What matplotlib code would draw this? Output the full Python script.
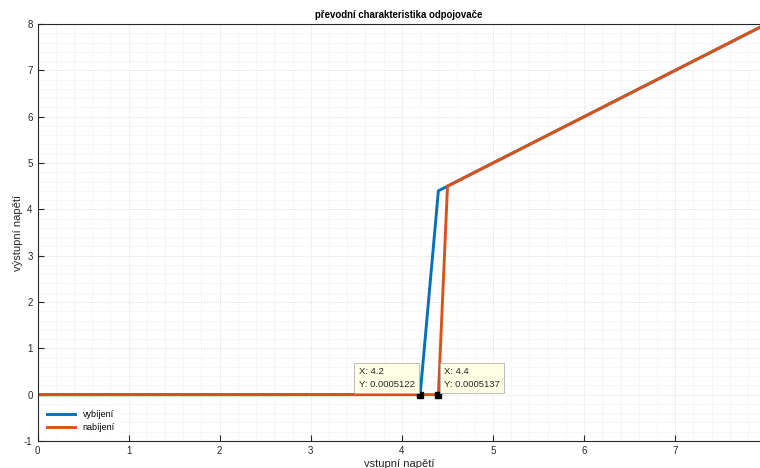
import numpy as np
import matplotlib.pyplot as plt
from matplotlib.ticker import MultipleLocator

# data
x_vyb = [0, 4.2, 4.4, 8.0]
y_vyb = [0, 0.0005122, 4.4, 8.0]
x_nab = [0, 4.4, 4.5, 8.0]
y_nab = [0, 0.0005137, 4.5, 8.0]

tips_x = [4.2, 4.4]
tips_y = [0.0005122, 0.0005137]
tips_txt = ['X: 4.2\nY: 0.0005122', 'X: 4.4\nY: 0.0005137']

plt.rcParams['font.family'] = ['Liberation Sans', 'DejaVu Sans']
plt.rcParams['axes.unicode_minus'] = False

fig = plt.figure(figsize=(7.6, 4.68), dpi=100)
ax = fig.add_axes([37.5/760, 27/468, 722.5/760, 417/468])

ax.plot(x_vyb, y_vyb, color='#0072BD', lw=2.1, label='vybíjení')
ax.plot(x_nab, y_nab, color='#D95319', lw=2.1, label='nabíjení')

ax.set_xlim(0, 7.93)
ax.set_ylim(-1, 8)
ax.xaxis.set_major_locator(MultipleLocator(1))
ax.yaxis.set_major_locator(MultipleLocator(1))
ax.xaxis.set_minor_locator(MultipleLocator(0.2))
ax.yaxis.set_minor_locator(MultipleLocator(0.2))
ax.grid(which='major', color='#d4d4d4', lw=0.6, ls=(0, (1, 1.5)))
ax.grid(which='minor', color='#dadada', lw=0.5, ls=(0, (1, 2)))
ax.set_axisbelow(True)
ax.tick_params(which='major', direction='in', length=4, width=0.8, labelsize=7,
               colors='#262626', top=False, right=False)
ax.tick_params(which='minor', length=0)
for s in ['left', 'bottom', 'top']:
    ax.spines[s].set_color('#262626')
    ax.spines[s].set_linewidth(0.8)
ax.spines['right'].set_visible(False)

ax.set_title('převodní charakteristika odpojovače', fontsize=6.9, fontweight='bold', pad=4)
ax.set_xlabel('vstupní napětí', fontsize=8, color='#262626', labelpad=2)
ax.set_ylabel('výstupní napětí', fontsize=8, color='#262626', labelpad=1)

# data tips
ax.plot(tips_x, tips_y, 's', color='black', ms=5, zorder=5)
ax.annotate(tips_txt[0], (tips_x[0], tips_y[0]), xytext=(-4, 4), textcoords='offset points',
            ha='right', va='bottom', multialignment='left', fontsize=6.8, color='#262626',
            linespacing=1.55,
            bbox=dict(boxstyle='square,pad=0.45', fc='#ffffe6', ec='#b0b0b0', lw=0.6), zorder=6)
ax.annotate(tips_txt[1], (tips_x[1], tips_y[1]), xytext=(4, 4), textcoords='offset points',
            ha='left', va='bottom', multialignment='left', fontsize=6.8, color='#262626',
            linespacing=1.55,
            bbox=dict(boxstyle='square,pad=0.45', fc='#ffffe6', ec='#b0b0b0', lw=0.6), zorder=6)

leg = ax.legend(loc='lower left', fontsize=6.5, frameon=True, handlelength=3.2,
                borderaxespad=0.6, labelspacing=0.4)
leg.get_frame().set_edgecolor('white')
leg.get_frame().set_alpha(1)

fig.savefig('out.png', dpi=100)
